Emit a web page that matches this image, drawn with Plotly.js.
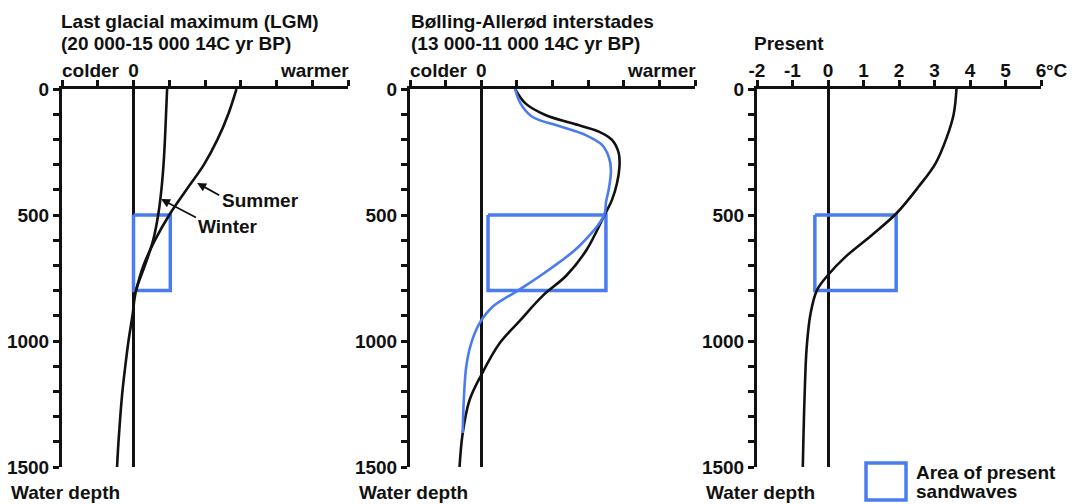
<!DOCTYPE html>
<html><head><meta charset="utf-8">
<script src="https://cdn.plot.ly/plotly-3.0.1.min.js"></script>
<style>html,body{margin:0;padding:0;background:#fff}</style>
</head><body><div id="chart" style="width:1072px;height:504px"></div>
<script>
// ---- data (temperature anomaly / temperature vs water depth) ----
const lgmWinterDepth = [0, 100, 200, 300, 400, 500, 600, 700, 800, 900, 1000, 1100, 1200, 1300, 1400, 1500];
const lgmWinterTemp  = [0.94, 0.91, 0.88, 0.84, 0.78, 0.69, 0.55, 0.32, 0.07, -0.03, -0.14, -0.23, -0.31, -0.37, -0.42, -0.46];
const lgmSummerDepth = [0, 100, 200, 300, 400, 500, 600, 700, 800];
const lgmSummerTemp  = [2.88, 2.65, 2.35, 1.97, 1.48, 1.0, 0.6, 0.28, 0.07];

const baBlackDepth = [0, 57, 103, 136, 169, 202, 255, 308, 374, 440, 500, 640, 740, 820, 920, 1010, 1135, 1235, 1365, 1500];
const baBlackTemp  = [0.95, 1.24, 1.8, 2.55, 3.3, 3.67, 3.86, 3.88, 3.81, 3.67, 3.46, 2.95, 2.39, 1.73, 1.08, 0.51, 0.0, -0.33, -0.52, -0.61];
const baBlueDepth = [0, 57, 110, 147, 183, 222, 270, 320, 390, 450, 500, 626, 718, 798, 864, 930, 1008, 1100, 1235, 1365];
const baBlueTemp  = [0.95, 1.1, 1.43, 2.18, 2.93, 3.39, 3.58, 3.64, 3.59, 3.5, 3.45, 2.73, 1.89, 1.05, 0.32, -0.05, -0.28, -0.42, -0.49, -0.52];

const presentDepth = [0, 100, 190, 295, 388, 493, 580, 666, 738, 798, 890, 1024, 1222, 1500];
const presentTemp  = [3.62, 3.54, 3.35, 3.03, 2.55, 1.93, 1.23, 0.49, 0.0, -0.31, -0.49, -0.6, -0.66, -0.71];

const sandwaveDepth = [500, 800];
const sandwaveTempLGM = [0, 1.03];
const sandwaveTempBA = [0.19, 3.5];
const sandwaveTempPresent = [-0.37, 1.92];

const xTickVals = [-2, -1, 0, 1, 2, 3, 4, 5, 6];
const relTickText = ['', '', '0', '', '', '', '', '', ''];
const presentTickText = ['-2', '-1', '0', '1', '2', '3', '4', '5', '6'];
const relWords = ['colder', 'warmer'];
const relWordPos = [-1.2, 5.05];
const panelTitlesLine1 = ['Last glacial maximum (LGM)', 'Bølling-Allerød interstades', ''];
const panelTitlesLine2 = ['(20 000-15 000 14C yr BP)', '(13 000-11 000 14C yr BP)', 'Present'];
const depthLabel = 'Water depth';
const unitLabel = '°C';
const legendLines = ['Area of present', 'sandwaves'];
const seasonLabels = ['Summer', 'Winter'];
// arrow positions [head temp, head depth, tail temp, tail depth]
const summerArrow = [1.78, 373, 2.44, 425];
const winterArrow = [0.77, 437, 1.79, 513];
const summerLabelPos = [2.43, 444];
const winterLabelPos = [1.75, 546];

// ---- styling ----
const W = 1072, H = 504;
const BLACK = '#111111';
const BLUE = '#4a7cf0';
const FONT = {family: 'Liberation Sans, Arial, sans-serif', size: 19, color: BLACK, weight: 'bold'};
const px = v => v / W;
const py = v => 1 - v / H;

function boxTrace(temps, xa, ya) {
  return {
    x: [temps[0], temps[1], temps[1], temps[0], temps[0]],
    y: [sandwaveDepth[0], sandwaveDepth[0], sandwaveDepth[1], sandwaveDepth[1], sandwaveDepth[0]],
    xaxis: xa, yaxis: ya, mode: 'lines', line: {color: BLUE, width: 3.5}, hoverinfo: 'skip'
  };
}
function curve(x, y, xa, ya, color) {
  return {x, y, xaxis: xa, yaxis: ya, mode: 'lines',
    line: {color, width: 2.6, shape: 'spline', smoothing: 1}, hoverinfo: 'skip'};
}

const data = [
  boxTrace(sandwaveTempLGM, 'x', 'y'),
  curve(lgmWinterTemp, lgmWinterDepth, 'x', 'y', BLACK),
  curve(lgmSummerTemp, lgmSummerDepth, 'x', 'y', BLACK),
  boxTrace(sandwaveTempBA, 'x2', 'y2'),
  curve(baBlackTemp, baBlackDepth, 'x2', 'y2', BLACK),
  curve(baBlueTemp, baBlueDepth, 'x2', 'y2', BLUE),
  boxTrace(sandwaveTempPresent, 'x3', 'y3'),
  curve(presentTemp, presentDepth, 'x3', 'y3', BLACK)
];

function xaxisCfg(domain, ticktext, anchor) {
  return {domain, anchor, side: 'top', range: [-2, 6], tickmode: 'array', tickvals: xTickVals, ticktext,
    ticks: 'outside', ticklen: 6, tickwidth: 3, tickcolor: BLACK, showline: true, linewidth: 3, linecolor: BLACK,
    showgrid: false, zeroline: true, zerolinewidth: 3, zerolinecolor: BLACK, tickangle: 0, tickfont: FONT,
    ticklabelstandoff: -5, fixedrange: true};
}
function yaxisCfg(anchor) {
  return {domain: [37 / H, 415 / H], anchor, range: [1500, 0], tickmode: 'linear', tick0: 0, dtick: 500,
    ticks: 'outside', ticklen: 6, tickwidth: 3, tickcolor: BLACK, showline: true, linewidth: 3, linecolor: BLACK,
    minor: {tick0: 0, dtick: 100, ticks: 'outside', ticklen: 6, tickwidth: 3, tickcolor: BLACK, showgrid: false},
    showgrid: false, zeroline: false, tickfont: FONT, fixedrange: true};
}

const annotations = [];
const titleX = [59, 409, 752];
const depthX = [9, 357, 704];
for (let i = 0; i < 3; i++) {
  if (panelTitlesLine1[i]) annotations.push({xref: 'paper', yref: 'paper', x: px(titleX[i]), y: py(22),
    xanchor: 'left', yanchor: 'middle', text: panelTitlesLine1[i], showarrow: false, font: FONT});
  annotations.push({xref: 'paper', yref: 'paper', x: px(titleX[i]), y: py(43),
    xanchor: 'left', yanchor: 'middle', text: panelTitlesLine2[i], showarrow: false, font: FONT});
  annotations.push({xref: 'paper', yref: 'paper', x: px(depthX[i]), y: py(492),
    xanchor: 'left', yanchor: 'middle', text: depthLabel, showarrow: false, font: FONT});
}
['x', 'x2'].forEach(xr => relWords.forEach((w, j) => annotations.push({xref: xr, yref: 'paper',
  x: relWordPos[j], y: py(71), xanchor: 'center', yanchor: 'middle', text: w, showarrow: false, font: FONT})));
annotations.push({xref: 'paper', yref: 'paper', x: px(1044), y: py(71), xanchor: 'left', yanchor: 'middle',
  text: unitLabel, showarrow: false, font: FONT});
annotations.push({xref: 'paper', yref: 'paper', x: px(914), y: py(472), xanchor: 'left', yanchor: 'middle',
  text: legendLines[0], showarrow: false, font: FONT});
annotations.push({xref: 'paper', yref: 'paper', x: px(914), y: py(491), xanchor: 'left', yanchor: 'middle',
  text: legendLines[1], showarrow: false, font: FONT});
annotations.push({xref: 'x', yref: 'y', x: summerLabelPos[0], y: summerLabelPos[1], xanchor: 'left', yanchor: 'middle',
  text: seasonLabels[0], showarrow: false, font: FONT});
annotations.push({xref: 'x', yref: 'y', x: winterLabelPos[0], y: winterLabelPos[1], xanchor: 'left', yanchor: 'middle',
  text: seasonLabels[1], showarrow: false, font: FONT});
[summerArrow, winterArrow].forEach(a => annotations.push({xref: 'x', yref: 'y', axref: 'x', ayref: 'y',
  x: a[0], y: a[1], ax: a[2], ay: a[3], text: '', showarrow: true, arrowhead: 2, arrowsize: 1,
  arrowwidth: 1.8, arrowcolor: BLACK}));

const layout = {
  width: W, height: H, margin: {l: 0, r: 0, t: 0, b: 0}, autosize: false, showlegend: false,
  paper_bgcolor: '#ffffff', plot_bgcolor: '#ffffff',
  xaxis: xaxisCfg([62 / W, 348 / W], relTickText, 'y'),
  yaxis: yaxisCfg('x'),
  xaxis2: xaxisCfg([410 / W, 695 / W], relTickText, 'y2'),
  yaxis2: yaxisCfg('x2'),
  xaxis3: xaxisCfg([757 / W, 1041 / W], presentTickText, 'y3'),
  yaxis3: yaxisCfg('x3'),
  annotations,
  shapes: [{type: 'rect', xref: 'paper', yref: 'paper', x0: px(866), x1: px(906), y0: py(500), y1: py(463),
    line: {color: BLUE, width: 3.5}, fillcolor: 'rgba(0,0,0,0)'}]
};

Plotly.newPlot('chart', data, layout, {displayModeBar: false, staticPlot: true});
</script></body></html>
